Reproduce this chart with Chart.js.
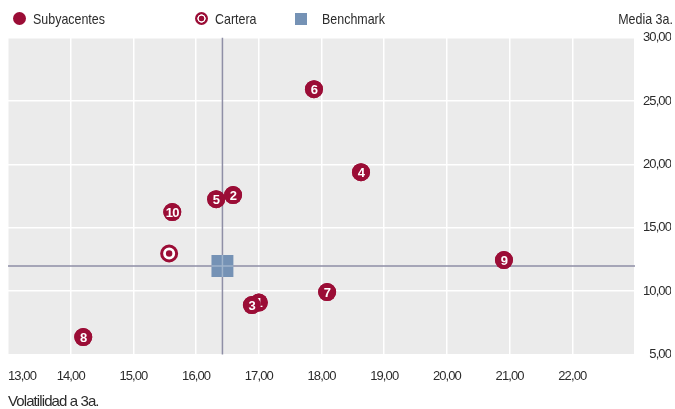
<!DOCTYPE html>
<html>
<head>
<meta charset="utf-8">
<script src="https://cdn.jsdelivr.net/npm/chart.js@4.4.1/dist/chart.umd.min.js"></script>
<style>
  html, body { margin: 0; padding: 0; background: #fff; }
  #wrap { position: relative; width: 675px; height: 409px; font-family: "Liberation Sans", Arial, sans-serif; color: #2b2b2b; }
  #chart { position: absolute; left: 0; top: 0; }
  .lg { position: absolute; top: 10px; height: 18px; line-height: 18px; font-size: 15px; white-space: nowrap; transform: scaleX(0.83); transform-origin: left center; }
  .lg.right { transform-origin: right center; }
  .ico { position: absolute; top: 12px; width: 13px; height: 13px; }
  .dot { border-radius: 50%; background: #9b0d36; }
  .target { border-radius: 50%; background: radial-gradient(circle, #9b0d36 0 2.6px, #fff 3.1px 3.9px, #9b0d36 4.4px); }
  .sq { background: #7592b5; width: 12px; height: 12px; top: 13px; }
</style>
</head>
<body>
<div id="wrap">
  <canvas id="chart" width="675" height="409"></canvas>
  <div class="ico dot" style="left:13px"></div>
  <div class="lg" style="left:33px">Subyacentes</div>
  <div class="ico target" style="left:195px"></div>
  <div class="lg" style="left:215px">Cartera</div>
  <div class="ico sq" style="left:295px"></div>
  <div class="lg" style="left:322px">Benchmark</div>
  <div class="lg right" style="right:2px">Media 3a.</div>
</div>
<script>
  // values
  const subyacentesIds = ['1', '2', '3', '4', '5', '6', '7', '8', '9', '10'];
  const subyacentesVol = [17.00, 16.59, 16.89, 18.63, 16.32, 17.88, 18.09, 14.20, 20.91, 15.62];
  const subyacentesMedia = [9.10, 17.58, 8.90, 19.39, 17.26, 25.94, 9.93, 6.38, 12.45, 16.24];
  const carteraVol = [15.57];
  const carteraMedia = [12.97];
  const benchmarkVol = [16.42];
  const benchmarkMedia = [11.98];
  const xRange = [13, 23];
  const yRange = [5, 30];
  const hiddenXTicks = [23];

  const RED = '#9b0d36';
  const BLUE = '#7592b5';
  const FONT = '"Liberation Sans", Arial, sans-serif';

  function toPoints(xs, ys) {
    return xs.map((x, i) => ({ x, y: ys[i] }));
  }

  function formatNumber(value) {
    return value.toFixed(2).replace('.', ',');
  }

  const markersPlugin = {
    id: 'markers',
    beforeDraw(chart) {
      const { ctx, chartArea: a } = chart;
      // no condensed font installed, so tighten the letters instead
      ctx.letterSpacing = '-0.9px';
      ctx.save();
      ctx.fillStyle = '#ebebeb';
      ctx.fillRect(a.left, a.top, a.right - a.left, a.bottom - a.top);
      ctx.restore();
    },
    beforeDatasetsDraw(chart) {
      const { ctx, chartArea: a, scales } = chart;
      const bx = scales.x.getPixelForValue(benchmarkVol[0]);
      const by = scales.y.getPixelForValue(benchmarkMedia[0]);
      ctx.save();
      ctx.strokeStyle = '#8f8fa6';
      ctx.lineWidth = 1.5;
      ctx.beginPath();
      ctx.moveTo(bx, a.top);
      ctx.lineTo(bx, a.bottom);
      ctx.moveTo(a.left, by);
      ctx.lineTo(a.right, by);
      ctx.stroke();
      ctx.restore();
    },
    afterDatasetsDraw(chart) {
      const { ctx } = chart;
      ctx.save();

      // light cross through the benchmark square
      const bench = chart.getDatasetMeta(2).data[0];
      ctx.strokeStyle = 'rgba(255,255,255,0.3)';
      ctx.lineWidth = 1.5;
      ctx.beginPath();
      ctx.moveTo(bench.x, bench.y - 11);
      ctx.lineTo(bench.x, bench.y + 11);
      ctx.moveTo(bench.x - 11, bench.y);
      ctx.lineTo(bench.x + 11, bench.y);
      ctx.stroke();

      // numbered circles, drawn one by one so later ones cover earlier labels
      const meta = chart.getDatasetMeta(0);
      ctx.letterSpacing = '-0.6px';
      meta.data.forEach((pt, i) => {
        ctx.fillStyle = RED;
        ctx.beginPath();
        ctx.arc(pt.x, pt.y, 9, 0, Math.PI * 2);
        ctx.fill();
        ctx.fillStyle = '#fff';
        ctx.font = `bold 13px ${FONT}`;
        ctx.textAlign = 'center';
        ctx.textBaseline = 'middle';
        ctx.fillText(subyacentesIds[i], pt.x, pt.y + 1);
      });

      // centre dot of the cartera target
      const cart = chart.getDatasetMeta(1).data[0];
      ctx.fillStyle = RED;
      ctx.beginPath();
      ctx.arc(cart.x, cart.y, 3.2, 0, Math.PI * 2);
      ctx.fill();
      ctx.restore();
    }
  };

  new Chart(document.getElementById('chart'), {
    type: 'scatter',
    data: {
      datasets: [
        {
          label: 'Subyacentes',
          data: toPoints(subyacentesVol, subyacentesMedia),
          pointRadius: 9,
          pointBackgroundColor: RED,
          pointBorderWidth: 0
        },
        {
          label: 'Cartera',
          data: toPoints(carteraVol, carteraMedia),
          pointRadius: 7.5,
          pointBackgroundColor: '#fff',
          pointBorderColor: RED,
          pointBorderWidth: 3
        },
        {
          label: 'Benchmark',
          data: toPoints(benchmarkVol, benchmarkMedia),
          pointStyle: 'rect',
          pointRadius: 15.5,
          pointBackgroundColor: BLUE,
          pointBorderWidth: 0
        }
      ]
    },
    options: {
      responsive: false,
      animation: false,
      devicePixelRatio: 1,
      layout: { autoPadding: false, padding: { left: 8, right: 4, top: 37.7, bottom: 0 } },
      plugins: {
        legend: { display: false },
        tooltip: { enabled: false }
      },
      scales: {
        x: {
          type: 'linear',
          min: xRange[0],
          max: xRange[1],
          border: { display: false },
          grid: { color: '#ffffff', lineWidth: 1.5, drawTicks: false },
          ticks: {
            stepSize: 1,
            align: 'inner',
            padding: 14,
            color: '#2b2b2b',
            font: { family: FONT, size: 13 },
            callback: (v) => (hiddenXTicks.includes(v) ? '' : formatNumber(v))
          },
          title: {
            display: true,
            text: 'Volatilidad a 3a.',
            align: 'start',
            color: '#2b2b2b',
            padding: { top: 0, bottom: -2 },
            font: { family: FONT, size: 15 }
          },
          afterFit: (scale) => {
            scale.height = 54.5;
            scale.paddingLeft = 0;
            scale.paddingRight = 0;
          }
        },
        y: {
          type: 'linear',
          position: 'right',
          min: yRange[0],
          max: yRange[1],
          border: { display: false },
          grid: { color: '#ffffff', lineWidth: 1.5, drawTicks: false },
          ticks: {
            stepSize: 5,
            crossAlign: 'far',
            color: '#2b2b2b',
            font: { family: FONT, size: 13 },
            callback: (v) => formatNumber(v)
          },
          afterFit: (scale) => { scale.width = 36; }
        }
      }
    },
    plugins: [markersPlugin]
  });
</script>
</body>
</html>
